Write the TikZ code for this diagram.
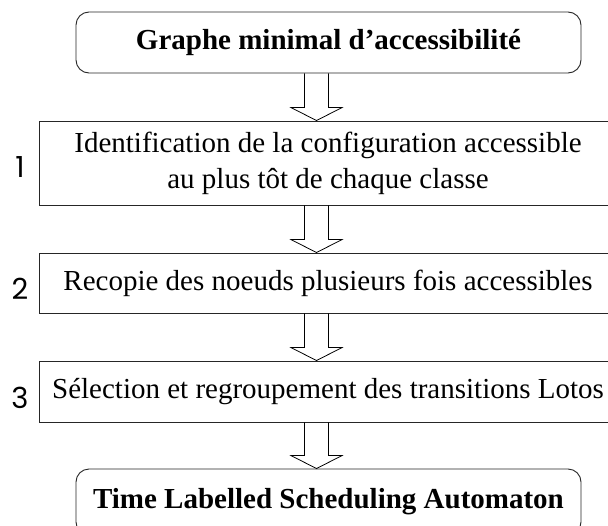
\documentclass[tikz,border=0pt]{standalone}
\usepackage{fontspec}
\setmainfont{Liberation Serif}
\newfontfamily\chiffre{Poppins}
\usetikzlibrary{calc}

\tikzset{
  boite/.style={draw=black!85, line width=0.9pt, minimum width=578pt, inner sep=0pt, align=center,
    font=\fontsize{29}{36}\selectfont},
  boiteronde/.style={boite, rounded corners=13pt, minimum width=505pt, minimum height=61pt,
    font=\fontsize{29}{36}\selectfont\bfseries},
  numero/.style={font=\chiffre\fontsize{29}{36}\selectfont, inner sep=0pt},
  fleche/.style={draw, line width=0.8pt, line join=miter}
}

\begin{document}
\begin{tikzpicture}[x=1pt,y=-1pt]
  \clip (0,0) rectangle (608,525);  % page, boxes run past the right and bottom edges
  \fill[white] (0,0) rectangle (608,525);

  \node[boiteronde] (graphe) at (328.5,42.5) {Graphe minimal d’accessibilité};
  \node[boite, minimum height=84pt] (etape1) at (328,163)
    {Identification de la configuration accessible\\au plus tôt de chaque classe};
  \node[boite, minimum height=60pt] (etape2) at (328,283) {Recopie des noeuds plusieurs fois accessibles};
  \node[boite, minimum height=61pt] (etape3) at (328,391.5) {Sélection et regroupement des transitions Lotos};
  \node[boiteronde, minimum height=66pt] (tlsa) at (328.5,502) {Time Labelled Scheduling Automaton};

  \node[numero] (num1) at (20,167.5) {1};
  \node[numero] (num2) at (20,288.5) {2};
  \node[numero] (num3) at (20,397.5) {3};

  % hollow arrows between the steps
  \coordinate (axe) at (316.5,0);
  \foreach \haut/\bas in {graphe/etape1, etape1/etape2, etape2/etape3, etape3/tlsa} {
    \draw[fleche] ($(\haut.south -| axe)+(-12,0)$) -- ($(\bas.north -| axe)+(-12,-13)$)
      -- ($(\bas.north -| axe)+(-25.5,-13)$) -- (\bas.north -| axe)
      -- ($(\bas.north -| axe)+(25.5,-13)$) -- ($(\bas.north -| axe)+(12,-13)$)
      -- ($(\haut.south -| axe)+(12,0)$);
  }
\end{tikzpicture}
\end{document}
